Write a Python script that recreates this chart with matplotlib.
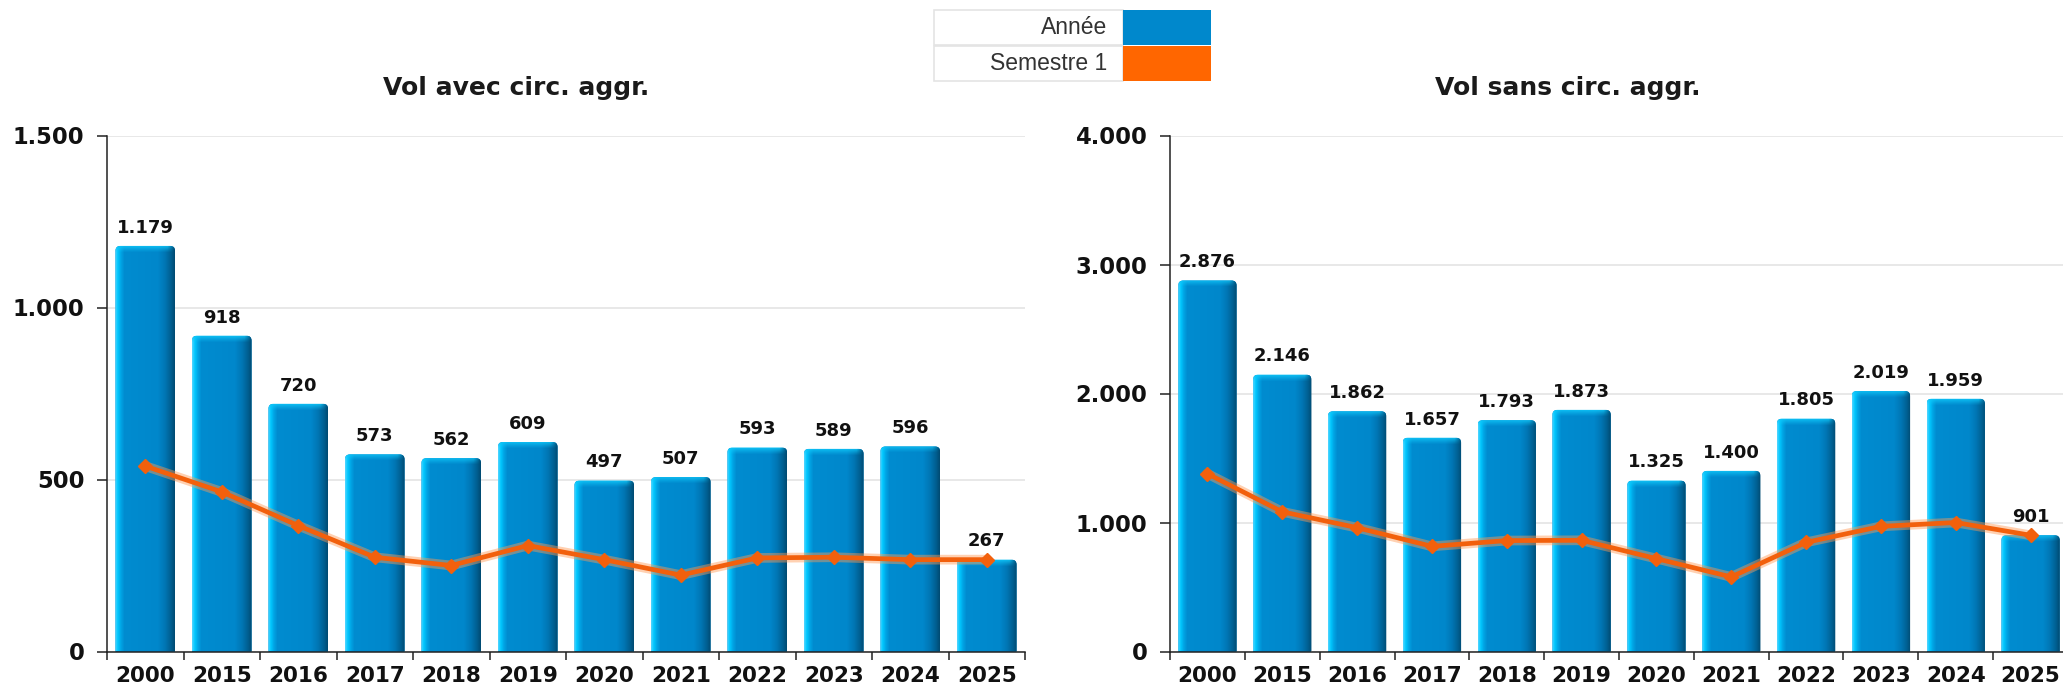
import numpy as np
import matplotlib
matplotlib.use('Agg')
import matplotlib.pyplot as plt
from matplotlib.patches import FancyBboxPatch, Rectangle
from matplotlib.colors import to_rgb
from matplotlib.ticker import FuncFormatter, MultipleLocator, FixedLocator

# ---------------- data ----------------
years = ['2000', '2015', '2016', '2017', '2018', '2019', '2020', '2021',
         '2022', '2023', '2024', '2025']
avec_annee = [1179, 918, 720, 573, 562, 609, 497, 507, 593, 589, 596, 267]
avec_sem1 = [539, 464, 366, 274, 250, 308, 267, 222, 272, 274, 267, 267]
sans_annee = [2876, 2146, 1862, 1657, 1793, 1873, 1325, 1400, 1805, 2019, 1959, 901]
sans_sem1 = [1378, 1083, 960, 815, 860, 862, 720, 578, 846, 970, 1000, 901]
titles = ['Vol avec circ. aggr.', 'Vol sans circ. aggr.']
legend_labels = ['Année', 'Semestre 1']
y_max = [1500, 4000]
y_step = [500, 1000]

# ---------------- style ----------------
W, H = 2063, 688
DPI = 100
BLUE = '#0088CC'
ORANGE = '#FF6600'
fig = plt.figure(figsize=(W / DPI, H / DPI), dpi=DPI)
fig.patch.set_facecolor('white')

ax_boxes = [(107, 36.5, 918, 516), (1170, 36.5, 898, 516)]
title_x = [516, 1568]

grad_stops = [(0.00, '#48D4FF'), (0.04, '#00C8FF'), (0.09, '#00A6E6'),
              (0.15, '#008CD0'), (0.72, '#0087CB'), (0.84, '#0076B4'),
              (0.94, '#005F91'), (1.00, '#004C74')]


def grad_row(n):
    t = np.linspace(0, 1, n)
    pos = [s[0] for s in grad_stops]
    cols = np.array([to_rgb(s[1]) for s in grad_stops])
    return np.stack([np.interp(t, pos, cols[:, k]) for k in range(3)], axis=1), t


def fmt_thousands(v, pos=None):
    return f"{v:,.0f}".replace(',', '.')


def draw_panel(ax, annee, sem1, ymax, ystep, box):
    n = len(years)
    x = np.arange(n)
    ax_w_px, ax_h_px = box[2], box[3]
    ux = n / ax_w_px
    uy = ymax / ax_h_px

    ax.set_xlim(-0.5, n - 0.5)
    ax.set_ylim(0, ymax)
    ax.yaxis.set_major_locator(MultipleLocator(ystep))
    ax.yaxis.set_major_formatter(FuncFormatter(fmt_thousands))
    ax.grid(axis='y', color='#e6e6e6', lw=1.3, zorder=0)
    ax.set_axisbelow(True)

    bars = ax.bar(x, annee, width=0.78, color=BLUE, zorder=2, linewidth=0)
    cols, t = grad_row(60)
    cap_col = np.array(to_rgb('#10C8FA'))
    for b in bars:
        x0, w, h = b.get_x(), b.get_width(), b.get_height()
        r = 5
        clip = FancyBboxPatch((x0, -3 * r * uy), w, h + 3 * r * uy,
                              boxstyle=f"round,pad=0,rounding_size={r * ux}",
                              mutation_aspect=uy / ux, transform=ax.transData,
                              facecolor='none', edgecolor='none')
        ax.add_patch(clip)
        b.set_clip_path(clip)
        rows = max(int(round(h / uy)), 2)
        img = np.repeat(cols[None, :, :], rows, axis=0)
        cap = 7
        for i in range(min(cap, rows)):
            wgt = (1 - i / cap) ** 1.2 * 0.9
            bevel = np.clip((1 - t) / 0.12, 0, 1)[:, None]
            img[i] = img[i] * (1 - wgt * bevel) + cap_col * wgt * bevel
        im = ax.imshow(img, extent=(x0, x0 + w, 0, h), aspect='auto',
                       interpolation='bilinear', zorder=2.1)
        im.set_clip_path(clip)

    # line with glow
    ax.plot(x, sem1, color='#FF9A55', lw=7, alpha=0.45, zorder=3,
            solid_capstyle='round', solid_joinstyle='round')
    ax.plot(x, sem1, color='#F2600C', lw=3.4, zorder=3.1,
            marker='D', markersize=7, markerfacecolor='#F2600C',
            markeredgecolor='#F2600C', solid_joinstyle='round')

    for xi, v in zip(x, annee):
        ax.annotate(fmt_thousands(v), (xi, v), xytext=(0, 9.5),
                    textcoords='offset points', ha='center', va='baseline',
                    fontsize=13, fontweight='bold', color='#111111',
                    zorder=5)

    ax.set_xlim(-0.5, n - 0.5)
    ax.set_ylim(0, ymax)
    ax.set_xticks(x)
    ax.set_xticklabels(years)
    ax.xaxis.set_minor_locator(FixedLocator(np.arange(-0.5, n, 1.0)))
    ax.tick_params(axis='x', which='major', length=0, pad=10.5,
                   labelsize=15.5, labelcolor='#111111')
    ax.tick_params(axis='x', which='minor', length=6, width=1.1,
                   color='#222222')
    ax.tick_params(axis='y', which='major', length=7.2, width=1.1,
                   pad=9, labelsize=16.3, labelcolor='#111111',
                   color='#222222')
    for lab in ax.get_xticklabels() + ax.get_yticklabels():
        lab.set_fontweight('bold')
    for s in ['top', 'right']:
        ax.spines[s].set_visible(False)
    for s in ['left', 'bottom']:
        ax.spines[s].set_color('#222222')
        ax.spines[s].set_linewidth(1.1)


panels = [(avec_annee, avec_sem1), (sans_annee, sans_sem1)]
for k, (annee, sem1) in enumerate(panels):
    box = ax_boxes[k]
    ax = fig.add_axes([box[0] / W, box[1] / H, box[2] / W, box[3] / H])
    draw_panel(ax, annee, sem1, y_max[k], y_step[k], box)
    fig.text(title_x[k] / W, 1 - 88.5 / H, titles[k], ha='center', va='center',
             fontsize=18, fontweight='bold', color='#1a1a1a',
             family='DejaVu Sans')

# ---------------- legend (table) ----------------
leg_x0, leg_x1, leg_sw = 934, 1210.5, 1122.5
row_tops = [10, 45.5]
row_h = 35
leg_colors = [BLUE, ORANGE]
for i, (lab, c) in enumerate(zip(legend_labels, leg_colors)):
    top = row_tops[i]
    fig.patches.append(Rectangle((leg_x0 / W, 1 - (top + row_h) / H),
                                 (leg_sw - leg_x0) / W, row_h / H,
                                 transform=fig.transFigure, facecolor='white',
                                 edgecolor='#e4e4e4', lw=1.2))
    fig.patches.append(Rectangle((leg_sw / W, 1 - (top + row_h) / H),
                                 (leg_x1 - leg_sw) / W, row_h / H,
                                 transform=fig.transFigure, facecolor=c,
                                 edgecolor='none'))
    fig.text(1107 / W, 1 - (top + row_h / 2) / H, lab, ha='right',
             va='center', fontsize=16.5, color='#333333',
             family='Liberation Sans')

fig.savefig('out.png', dpi=DPI, facecolor='white')
